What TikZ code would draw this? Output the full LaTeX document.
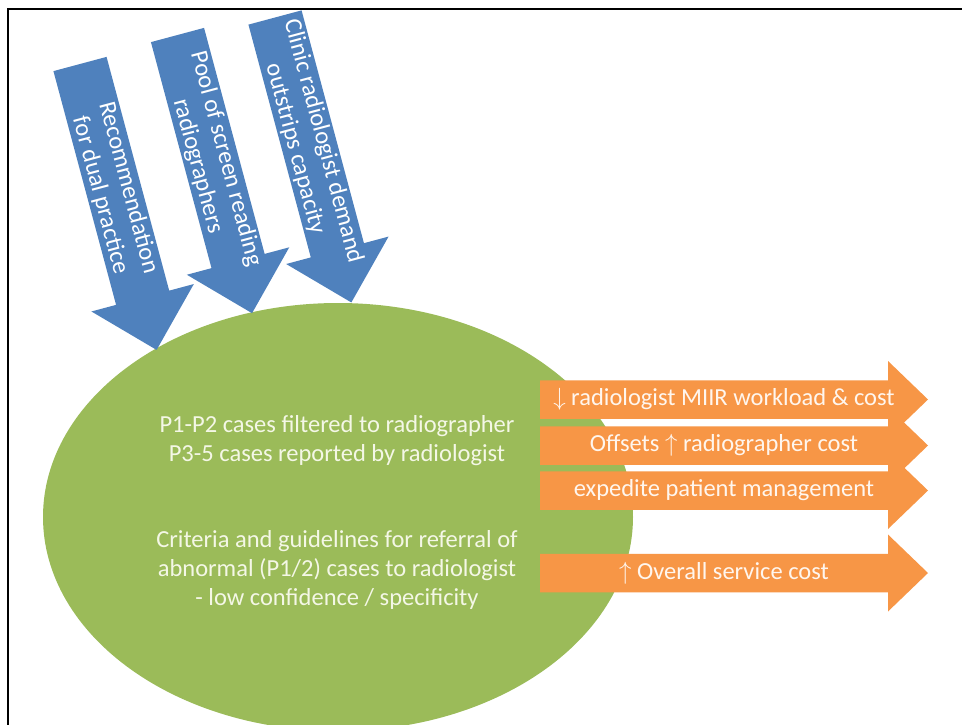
\documentclass[tikz,border=0pt]{standalone}
\usepackage{fontspec}
\setmainfont{Carlito}
\usetikzlibrary{shapes.geometric}
\definecolor{leafgreen}{HTML}{9BBB59}
\definecolor{driverblue}{HTML}{4F81BD}
\definecolor{outcomeorange}{HTML}{F79646}
\definecolor{paletext}{HTML}{F4F7E6}
\definecolor{creamtext}{HTML}{FFF6EE}
\tikzset{
  bodytext/.style={font=\fontsize{24.5}{29}\selectfont, align=center, inner sep=0pt},
  drivertext/.style={bodytext, text=white, rotate=-75},
  outcometext/.style={bodytext, text=creamtext},
  hubtext/.style={bodytext, text=paletext},
}
% Fat blue arrow: name, tail centre, length, label
\newcommand\driverarrow[4]{%
  \begin{scope}[shift={#2}, rotate=-75]
    \fill[driverblue] (0,-27.5) -- ({#3-54},-27.5) -- ({#3-54},-53) -- (#3,0)
      -- ({#3-54},53) -- ({#3-54},27.5) -- (0,27.5) -- cycle;
    \node[drivertext] (#1) at (132,0) {#4};
  \end{scope}}
% Horizontal orange arrow: name, centre line, label
\newcommand\outcomearrow[3]{%
  \fill[outcomeorange] (540,{#2-19.25}) -- (888,{#2-19.25}) -- (888,{#2-38.5})
    -- (928,#2) -- (888,{#2+38.5}) -- (888,{#2+19.25}) -- (540,{#2+19.25}) -- cycle;
  \node[outcometext] (#1) at (724,#2) {#3};}
\begin{document}
\begin{tikzpicture}[x=1pt,y=-1pt]
  \useasboundingbox (0,0) rectangle (962,724);
  \fill[white] (0,0) rectangle (962,724);
  \draw[line width=2pt] (8,725) -- (8,9) -- (963,9);

  % central ellipse
  \node[ellipse, fill=leafgreen, minimum width=590pt, minimum height=428pt,
        inner sep=0pt] (hub) at (338,517) {};
  \node[hubtext] (split) at (337,441)
    {P1-P2 cases filtered to radiographer\\P3-5 cases reported by radiologist};
  \node[hubtext] (criteria) at (337,570)
    {Criteria and guidelines for referral of\\abnormal (P1/2) cases to radiologist\\- low confidence / specificity};

  % drivers
  \driverarrow{dual}{(80,64)}{296}{Recommendation\\for dual practice}
  \driverarrow{pool}{(177.5,35)}{288}{Pool of screen reading\\radiographers}
  \driverarrow{demand}{(275,17.5)}{295}{Clinic radiologist demand\\outstrips capacity}

  % outcomes
  \outcomearrow{workload}{399.5}{$\downarrow$ radiologist MIIR workload \& cost}
  \outcomearrow{offsets}{445.5}{Offsets $\uparrow$ radiographer cost}
  \outcomearrow{expedite}{490.5}{expedite patient management}
  \outcomearrow{overall}{573}{$\uparrow$ Overall service cost}
\end{tikzpicture}
\end{document}
